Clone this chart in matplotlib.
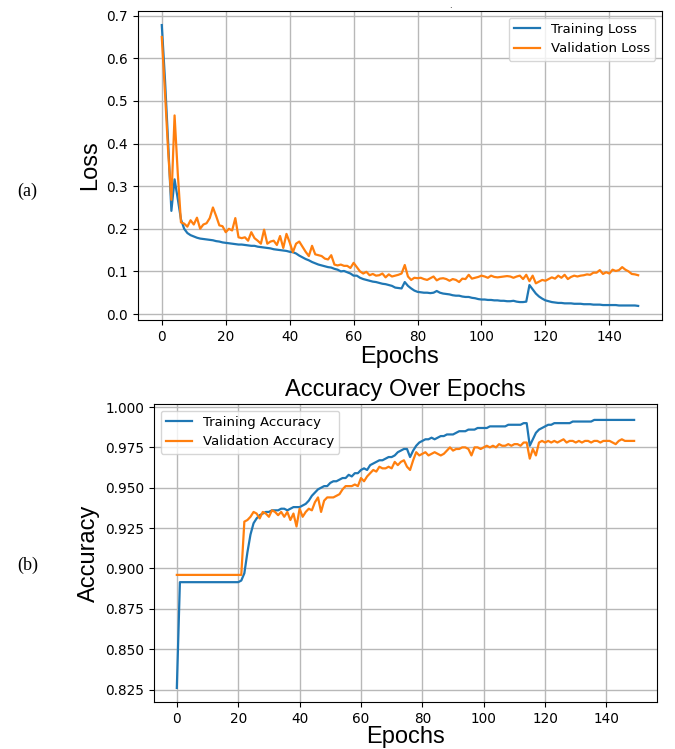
import matplotlib
matplotlib.use("Agg")
import matplotlib.pyplot as plt
import numpy as np

# values, one per epoch (0..149)
train_loss = [
    0.678, 0.550, 0.400, 0.242, 0.316, 0.270, 0.222, 0.200, 0.190, 0.185,
    0.182, 0.179, 0.177, 0.176, 0.175, 0.174, 0.173, 0.171, 0.170, 0.168,
    0.167, 0.166, 0.165, 0.164, 0.163, 0.163, 0.162, 0.161, 0.160, 0.160,
    0.158, 0.157, 0.156, 0.155, 0.154, 0.152, 0.151, 0.150, 0.149, 0.148,
    0.146, 0.145, 0.142, 0.137, 0.133, 0.129, 0.126, 0.122, 0.119, 0.116,
    0.114, 0.112, 0.110, 0.109, 0.106, 0.104, 0.100, 0.101, 0.098, 0.095,
    0.090, 0.090, 0.085, 0.082, 0.080, 0.078, 0.076, 0.075, 0.073, 0.071,
    0.070, 0.068, 0.066, 0.062, 0.061, 0.060, 0.075, 0.066, 0.060, 0.055,
    0.052, 0.051, 0.050, 0.050, 0.049, 0.050, 0.054, 0.050, 0.048, 0.047,
    0.046, 0.044, 0.043, 0.043, 0.041, 0.040, 0.040, 0.038, 0.037, 0.035,
    0.034, 0.034, 0.033, 0.033, 0.032, 0.032, 0.031, 0.031, 0.030, 0.030,
    0.031, 0.029, 0.028, 0.028, 0.029, 0.068, 0.058, 0.048, 0.041, 0.036,
    0.032, 0.030, 0.028, 0.027, 0.026, 0.026, 0.025, 0.025, 0.025, 0.024,
    0.024, 0.024, 0.023, 0.023, 0.023, 0.022, 0.022, 0.022, 0.021, 0.021,
    0.021, 0.021, 0.021, 0.020, 0.020, 0.020, 0.020, 0.020, 0.020, 0.019,
]
val_loss = [
    0.650, 0.520, 0.380, 0.268, 0.466, 0.330, 0.215, 0.212, 0.205, 0.220,
    0.210, 0.226, 0.200, 0.210, 0.213, 0.225, 0.250, 0.230, 0.208, 0.206,
    0.192, 0.200, 0.196, 0.225, 0.180, 0.178, 0.180, 0.172, 0.192, 0.178,
    0.172, 0.165, 0.198, 0.165, 0.170, 0.172, 0.162, 0.183, 0.155, 0.188,
    0.168, 0.145, 0.165, 0.170, 0.158, 0.146, 0.136, 0.160, 0.140, 0.138,
    0.136, 0.130, 0.128, 0.138, 0.116, 0.114, 0.116, 0.113, 0.113, 0.108,
    0.120, 0.110, 0.100, 0.095, 0.099, 0.091, 0.094, 0.090, 0.091, 0.095,
    0.086, 0.093, 0.088, 0.090, 0.092, 0.095, 0.115, 0.088, 0.080, 0.085,
    0.084, 0.085, 0.082, 0.080, 0.084, 0.088, 0.079, 0.083, 0.084, 0.082,
    0.078, 0.082, 0.080, 0.075, 0.083, 0.082, 0.092, 0.083, 0.085, 0.087,
    0.090, 0.088, 0.085, 0.090, 0.087, 0.086, 0.087, 0.088, 0.089, 0.088,
    0.085, 0.088, 0.090, 0.082, 0.092, 0.077, 0.090, 0.072, 0.076, 0.080,
    0.078, 0.082, 0.086, 0.083, 0.090, 0.085, 0.092, 0.082, 0.087, 0.090,
    0.088, 0.090, 0.091, 0.093, 0.092, 0.097, 0.097, 0.103, 0.094, 0.098,
    0.095, 0.104, 0.101, 0.103, 0.110, 0.104, 0.100, 0.094, 0.093, 0.091,
]
train_acc = [
    0.826, 0.8915, 0.8915, 0.8915, 0.8915, 0.8915, 0.8915, 0.8915, 0.8915, 0.8915,
    0.8915, 0.8915, 0.8915, 0.8915, 0.8915, 0.8915, 0.8915, 0.8915, 0.8915, 0.8915,
    0.8915, 0.8925, 0.897, 0.910, 0.921, 0.928, 0.931, 0.933, 0.934, 0.935,
    0.935, 0.936, 0.936, 0.936, 0.937, 0.937, 0.936, 0.937, 0.938, 0.938,
    0.938, 0.939, 0.940, 0.942, 0.945, 0.947, 0.949, 0.950, 0.951, 0.951,
    0.953, 0.954, 0.954, 0.955, 0.956, 0.956, 0.958, 0.957, 0.959, 0.959,
    0.961, 0.962, 0.961, 0.964, 0.965, 0.966, 0.967, 0.967, 0.968, 0.969,
    0.969, 0.970, 0.972, 0.973, 0.974, 0.974, 0.969, 0.973, 0.976, 0.978,
    0.979, 0.980, 0.980, 0.981, 0.980, 0.981, 0.982, 0.982, 0.983, 0.983,
    0.983, 0.984, 0.985, 0.985, 0.985, 0.986, 0.986, 0.986, 0.987, 0.987,
    0.987, 0.987, 0.988, 0.988, 0.988, 0.988, 0.988, 0.988, 0.989, 0.989,
    0.989, 0.989, 0.989, 0.990, 0.990, 0.976, 0.980, 0.984, 0.986, 0.987,
    0.988, 0.989, 0.989, 0.990, 0.990, 0.990, 0.990, 0.990, 0.990, 0.991,
    0.991, 0.991, 0.991, 0.991, 0.991, 0.991, 0.992, 0.992, 0.992, 0.992,
    0.992, 0.992, 0.992, 0.992, 0.992, 0.992, 0.992, 0.992, 0.992, 0.992,
]
val_acc = [
    0.896, 0.896, 0.896, 0.896, 0.896, 0.896, 0.896, 0.896, 0.896, 0.896,
    0.896, 0.896, 0.896, 0.896, 0.896, 0.896, 0.896, 0.896, 0.896, 0.896,
    0.896, 0.896, 0.929, 0.930, 0.932, 0.935, 0.934, 0.931, 0.935, 0.934,
    0.932, 0.936, 0.935, 0.933, 0.935, 0.932, 0.935, 0.930, 0.934, 0.926,
    0.937, 0.932, 0.935, 0.937, 0.936, 0.941, 0.944, 0.935, 0.942, 0.944,
    0.944, 0.944, 0.945, 0.946, 0.949, 0.951, 0.951, 0.951, 0.952, 0.951,
    0.956, 0.954, 0.957, 0.959, 0.961, 0.960, 0.963, 0.962, 0.962, 0.963,
    0.962, 0.966, 0.964, 0.966, 0.967, 0.963, 0.961, 0.967, 0.972, 0.970,
    0.971, 0.972, 0.970, 0.971, 0.972, 0.971, 0.970, 0.971, 0.973, 0.975,
    0.973, 0.974, 0.974, 0.975, 0.975, 0.974, 0.970, 0.975, 0.975, 0.974,
    0.975, 0.976, 0.975, 0.976, 0.975, 0.977, 0.976, 0.976, 0.977, 0.976,
    0.977, 0.977, 0.976, 0.978, 0.978, 0.968, 0.974, 0.970, 0.978, 0.979,
    0.978, 0.979, 0.978, 0.979, 0.978, 0.979, 0.980, 0.978, 0.979, 0.979,
    0.978, 0.979, 0.978, 0.979, 0.979, 0.978, 0.979, 0.979, 0.978, 0.979,
    0.979, 0.979, 0.978, 0.977, 0.979, 0.980, 0.979, 0.979, 0.979, 0.979,
]
epochs = np.arange(len(train_loss))

label_font = ["Liberation Sans", "DejaVu Sans"]
plt.rcParams["font.family"] = "DejaVu Sans"
plt.rcParams["xtick.labelsize"] = 9.8
plt.rcParams["ytick.labelsize"] = 9.8

fig = plt.figure(figsize=(6.75, 7.49), dpi=100)

# (a) loss
ax1 = fig.add_axes([0.2044, 0.5728, 0.7763, 0.4125])
ax1.plot(epochs, train_loss, color="#1f77b4", lw=1.6, label="Training Loss")
ax1.plot(epochs, val_loss, color="#ff7f0e", lw=1.6, label="Validation Loss")
ax1.set_ylim(-0.014, 0.711)
ax1.set_xlabel("Epochs", fontsize=17, family=label_font, labelpad=2)
ax1.set_ylabel("Loss", fontsize=17, family=label_font)
ax1.grid(True, color="#b8b8b8", lw=1.0)
ax1.legend(loc="upper right", fontsize=9.5)

# (b) accuracy
ax2 = fig.add_axes([0.2281, 0.0628, 0.7452, 0.3979])
ax2.plot(epochs, train_acc, color="#1f77b4", lw=1.6, label="Training Accuracy")
ax2.plot(epochs, val_acc, color="#ff7f0e", lw=1.6, label="Validation Accuracy")
ax2.set_ylim(0.8173, 1.0019)
ax2.set_title("Accuracy Over Epochs", fontsize=17, family=label_font)
ax2.set_xlabel("Epochs", fontsize=17, family=label_font, labelpad=0)
ax2.set_ylabel("Accuracy", fontsize=17, family=label_font)
ax2.grid(True, color="#b8b8b8", lw=1.0)
ax2.legend(loc="upper left", fontsize=9.5)

fig.text(0.041, 0.744, "(a)", fontsize=13, family="Liberation Serif", ha="center", va="center")
fig.text(0.041, 0.245, "(b)", fontsize=13, family="Liberation Serif", ha="center", va="center")
fig.text(0.667, 0.993, ".", fontsize=6, ha="center", va="center")

fig.savefig("out.png", dpi=100)
